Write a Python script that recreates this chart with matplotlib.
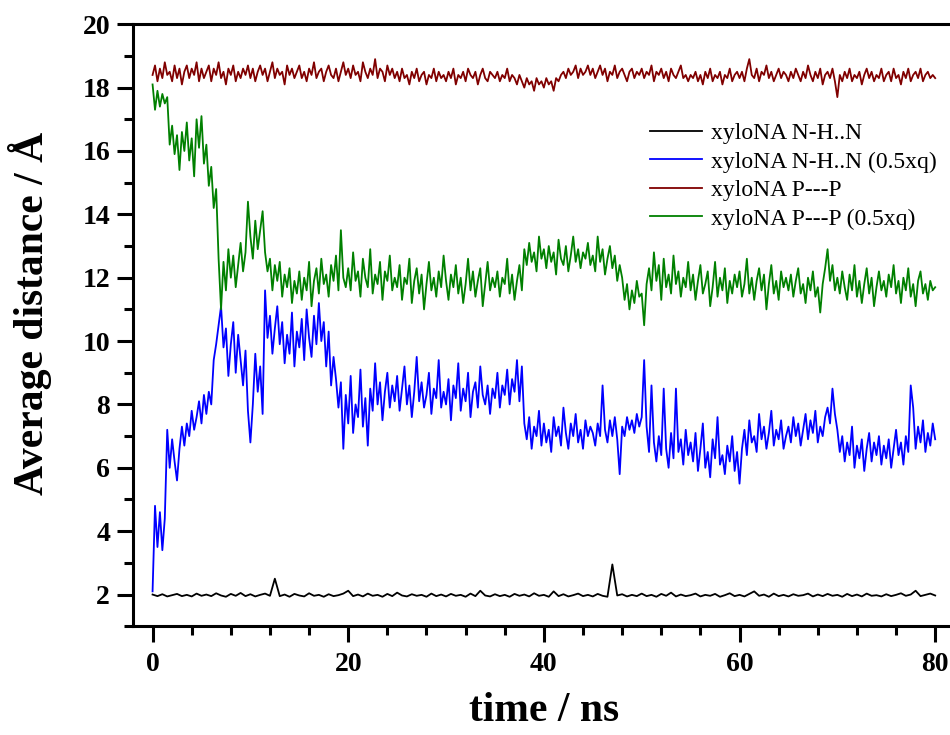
import numpy as np
import matplotlib
matplotlib.use("Agg")
import matplotlib.pyplot as plt
from matplotlib.ticker import MultipleLocator

# values, 0.25 ns apart (rows of 5 ns)
nhn_half_xq = [
    2.1, 4.8, 3.5, 4.6, 3.4, 4.4, 7.2, 6.0, 6.9, 6.2, 5.6, 6.6, 7.3, 6.7, 7.4, 7.0, 7.8, 7.2, 7.6, 8.1,
    7.4, 8.3, 7.7, 8.4, 8.0, 9.4, 9.9, 10.5, 11.1, 9.8, 10.4, 8.9, 9.9, 10.6, 9.0, 10.2, 9.4, 8.6, 9.7, 7.8,
    6.8, 8.0, 9.6, 8.4, 9.2, 7.7, 11.6, 10.1, 10.8, 9.6, 10.4, 11.1, 9.9, 10.6, 9.3, 10.2, 9.6, 10.9, 9.2, 10.3,
    9.8, 10.7, 9.4, 11.0, 10.1, 9.5, 10.8, 9.9, 11.2, 10.0, 10.6, 9.2, 10.3, 8.6, 9.5, 8.8, 7.9, 8.7, 6.6, 8.3,
    7.4, 8.9, 7.1, 8.0, 7.6, 9.1, 7.3, 8.2, 6.7, 8.5, 7.8, 9.3, 8.0, 8.7, 7.5, 8.4, 9.0, 7.9, 8.6, 8.1,
    8.9, 7.8, 8.5, 9.2, 8.0, 8.6, 7.6, 8.4, 9.5, 8.1, 8.7, 7.9, 8.3, 9.0, 7.7, 8.5, 8.2, 9.4, 7.9, 8.4,
    8.0, 8.8, 7.5, 8.6, 8.2, 9.3, 7.8, 8.5, 8.1, 9.0, 7.6, 8.4, 8.7, 7.9, 9.2, 8.3, 8.0, 8.6, 7.7, 8.5,
    8.2, 9.0, 7.9, 8.6, 8.3, 9.1, 8.0, 8.8, 8.4, 9.4, 8.1, 9.2, 7.4, 6.9, 7.6, 6.6, 7.3, 7.0, 7.8, 6.7,
    7.4, 6.8, 7.2, 6.5, 7.6, 7.0, 7.3, 6.7, 7.9, 7.1, 6.6, 7.4, 7.0, 7.7, 6.8, 7.2, 6.6, 7.5, 7.0, 7.3,
    7.1, 6.7, 7.4, 7.0, 8.6, 7.2, 6.8, 7.5, 7.0, 7.6, 6.9, 5.8, 7.3, 7.0, 7.6, 7.2, 7.5, 7.1, 7.7, 7.3,
    7.6, 9.4, 7.3, 6.5, 8.6, 6.8, 6.2, 7.0, 6.4, 8.5, 6.6, 6.0, 7.1, 6.3, 8.5, 6.5, 6.9, 6.1, 7.2, 6.4,
    6.8, 6.2, 7.1, 5.9, 6.6, 7.4, 6.0, 6.5, 5.7, 6.9, 6.3, 7.6, 6.1, 6.4, 5.8, 6.7, 6.2, 7.0, 5.9, 6.5,
    5.5, 6.6, 7.2, 6.4, 7.5, 6.8, 7.0, 6.5, 7.7, 6.9, 7.3, 6.6, 7.1, 7.8, 6.7, 7.2, 6.9, 7.5, 6.6, 7.0,
    7.3, 6.8, 7.6, 7.0, 7.4, 6.7, 7.2, 7.7, 6.9, 7.5, 7.1, 7.8, 6.8, 7.3, 7.0, 7.6, 7.9, 7.4, 8.5, 7.7,
    7.2, 6.5, 7.0, 6.2, 6.8, 6.4, 7.3, 6.0, 6.7, 6.3, 6.9, 5.9, 6.6, 7.1, 6.2, 6.8, 6.4, 7.0, 6.1, 6.7,
    6.3, 6.9, 6.0, 6.6, 7.2, 6.4, 6.8, 6.1, 7.0, 6.5, 8.6, 7.9, 6.6, 7.3, 6.8, 7.5, 6.5, 7.1, 6.7, 7.4,
    6.9,
]

ppp_half_xq = [
    18.1, 17.3, 17.9, 17.4, 17.8, 17.5, 17.7, 16.2, 16.8, 15.9, 16.5, 15.4, 16.6, 16.0, 16.9, 15.7, 16.4, 15.2, 17.0, 16.1,
    17.1, 15.6, 16.2, 14.9, 15.5, 14.2, 14.8, 12.6, 11.0, 12.5, 11.6, 12.9, 12.0, 12.7, 11.7, 12.4, 13.1, 12.2, 12.8, 14.4,
    13.3, 12.6, 13.8, 12.9, 13.5, 14.1, 12.8, 12.2, 12.6, 11.6, 12.4, 11.9, 12.5, 11.4, 12.1, 11.7, 12.3, 11.2, 11.9, 11.5,
    12.2, 11.3, 12.0, 11.6, 12.5, 11.1, 11.9, 12.3, 11.5, 12.6, 11.8, 12.1, 11.4, 12.4, 11.9, 12.7, 11.6, 13.5, 12.0, 11.7,
    12.3, 11.6, 12.8, 11.9, 12.2, 11.4, 12.6, 12.0, 11.7, 12.9, 11.5, 12.1, 11.8, 12.5, 11.3, 12.2, 11.9, 12.7, 11.6, 12.0,
    11.7, 12.4, 11.3, 12.0, 11.8, 12.6, 11.2, 11.9, 12.3, 11.5, 12.1, 11.0, 11.8, 12.5, 11.6, 12.0, 11.4, 12.2, 11.7, 12.7,
    11.9, 11.3, 12.1, 11.7, 12.4, 11.5, 12.0, 11.2, 11.8, 12.6, 11.6, 12.2, 11.4, 11.9, 12.3, 11.1, 11.8, 12.5, 11.6, 12.0,
    11.7, 12.2, 11.4, 12.0, 11.8, 12.6, 11.5, 12.1, 11.3, 11.9, 12.4, 11.6, 12.9, 12.4, 13.1, 12.5, 12.8, 12.2, 13.3, 12.6,
    12.9, 12.3, 13.0, 12.5, 12.8, 12.1, 13.2, 12.6, 12.4, 13.0, 12.2, 12.7, 13.3, 12.5, 12.9, 12.3, 12.8, 12.6, 13.1, 12.4,
    12.7, 12.2, 13.3, 12.5, 12.9, 12.1, 12.6, 13.0, 12.3, 12.7, 11.9, 12.4, 12.0, 11.3, 11.8, 11.0, 11.6, 11.2, 11.9, 11.4,
    11.5, 10.5, 11.8, 12.3, 11.6, 12.8, 11.9, 12.4, 11.3, 12.6, 11.7, 12.1, 11.5, 12.7, 11.8, 12.2, 11.4, 12.0, 11.7, 12.5,
    11.6, 12.1, 11.3, 11.9, 12.4, 11.5, 11.8, 12.2, 11.1, 11.7, 12.5, 11.4, 12.0, 11.6, 12.3, 11.2, 11.9, 11.5, 12.1, 11.7,
    12.2, 11.4, 11.8, 12.6, 11.5, 12.0, 11.3, 11.9, 12.3, 11.6, 12.1, 11.0, 11.8, 12.4, 11.5, 11.9, 11.3, 12.2, 11.7, 12.0,
    11.6, 12.1, 11.4, 11.9, 12.3, 11.5, 11.8, 11.2, 12.0, 11.6, 12.2, 11.4, 11.7, 10.9, 11.8, 12.3, 12.9, 11.9, 12.4, 11.6,
    12.0, 11.5, 12.2, 11.7, 11.3, 12.1, 11.6, 12.4, 11.4, 11.9, 11.2, 11.8, 12.3, 11.5, 12.0, 11.1, 11.7, 12.2, 11.6, 11.9,
    11.4, 12.1, 11.7, 12.4, 11.5, 11.9, 11.2, 12.0, 11.6, 12.3, 11.4, 11.8, 11.1, 11.9, 12.2, 11.5, 11.8, 11.3, 11.9, 11.6,
    11.7,
]

ppp = [
    18.4, 18.7, 18.2, 18.6, 18.3, 18.8, 18.4, 18.5, 18.2, 18.7, 18.3, 18.6, 18.1, 18.5, 18.7, 18.3, 18.6, 18.4, 18.8, 18.2,
    18.6, 18.3, 18.5, 18.7, 18.2, 18.6, 18.4, 18.8, 18.3, 18.5, 18.1, 18.6, 18.4, 18.7, 18.2, 18.5, 18.3, 18.6, 18.4, 18.7,
    18.3, 18.6, 18.2, 18.5, 18.7, 18.4, 18.6, 18.2, 18.5, 18.8, 18.3, 18.6, 18.4, 18.5, 18.1, 18.7, 18.4, 18.6, 18.3, 18.5,
    18.7, 18.3, 18.5, 18.2, 18.6, 18.4, 18.8, 18.3, 18.5, 18.6, 18.2, 18.5, 18.7, 18.4, 18.3, 18.6, 18.2, 18.5, 18.8, 18.4,
    18.6, 18.3, 18.7, 18.4, 18.5, 18.2, 18.8, 18.5, 18.3, 18.6, 18.4, 18.9, 18.3, 18.6, 18.5, 18.2, 18.7, 18.4, 18.6, 18.3,
    18.5, 18.2, 18.6, 18.3, 18.4, 18.1, 18.5, 18.3, 18.6, 18.2, 18.4, 18.5, 18.1, 18.4, 18.3, 18.6, 18.2, 18.5, 18.3, 18.4,
    18.2, 18.5, 18.3, 18.6, 18.1, 18.4, 18.3, 18.5, 18.2, 18.6, 18.4, 18.3, 18.5, 18.1, 18.4, 18.6, 18.3, 18.2, 18.5, 18.4,
    18.3, 18.5, 18.2, 18.4, 18.3, 18.6, 18.2, 18.4, 18.3, 18.1, 18.4, 18.2, 18.0, 18.3, 18.1, 18.2, 17.9, 18.3, 18.1, 18.2,
    18.0, 18.3, 18.1, 18.2, 17.9, 18.3, 18.2, 18.4, 18.5, 18.3, 18.6, 18.4, 18.5, 18.7, 18.3, 18.6, 18.4, 18.5, 18.7, 18.4,
    18.6, 18.3, 18.5, 18.7, 18.4, 18.6, 18.2, 18.5, 18.4, 18.7, 18.3, 18.5, 18.6, 18.4, 18.2, 18.5, 18.6, 18.3, 18.5, 18.4,
    18.6, 18.3, 18.5, 18.4, 18.7, 18.2, 18.5, 18.4, 18.6, 18.3, 18.5, 18.2, 18.6, 18.4, 18.3, 18.5, 18.7, 18.3, 18.4, 18.2,
    18.4, 18.3, 18.5, 18.2, 18.4, 18.1, 18.5, 18.3, 18.6, 18.2, 18.4, 18.3, 18.5, 18.1, 18.4, 18.3, 18.6, 18.2, 18.4, 18.5,
    18.3, 18.5, 18.2, 18.6, 18.9, 18.4, 18.3, 18.6, 18.2, 18.5, 18.4, 18.7, 18.3, 18.5, 18.2, 18.4, 18.6, 18.3, 18.5, 18.4,
    18.2, 18.5, 18.3, 18.6, 18.4, 18.2, 18.5, 18.3, 18.7, 18.4, 18.2, 18.5, 18.3, 18.6, 18.1, 18.4, 18.5, 18.3, 18.6, 18.2,
    17.7, 18.4, 18.2, 18.5, 18.3, 18.6, 18.2, 18.4, 18.3, 18.5, 18.1, 18.4, 18.6, 18.3, 18.5, 18.2, 18.4, 18.3, 18.6, 18.2,
    18.4, 18.5, 18.2, 18.6, 18.3, 18.4, 18.1, 18.5, 18.3, 18.6, 18.2, 18.4, 18.5, 18.3, 18.6, 18.2, 18.4, 18.5, 18.3, 18.4,
    18.3,
]

# 0.5 ns apart (rows of 10 ns)
nhn = [
    2.00, 1.95, 2.01, 1.94, 1.98, 2.02, 1.95, 1.99, 1.94, 2.03, 1.96, 2.00, 1.95, 2.04, 1.97, 1.93, 2.02, 1.96, 2.05, 1.95,
    2.01, 1.94, 1.99, 2.03, 1.96, 2.50, 1.95, 2.00, 1.93, 2.02, 1.97, 1.94, 2.04, 1.96, 1.99, 1.93, 2.01, 1.95, 1.98, 2.03,
    2.12, 1.95, 2.00, 1.94, 2.03, 1.96, 1.99, 1.93, 2.02, 1.95, 2.06, 1.97, 1.94, 2.01, 1.96, 1.99, 1.93, 2.03, 1.95, 2.00,
    1.94, 2.02, 1.96, 1.99, 1.93, 2.03, 1.95, 2.12, 1.97, 1.94, 2.01, 1.95, 1.99, 1.93, 2.02, 1.96, 2.00, 1.94, 2.04, 1.96,
    1.99, 1.93, 2.10, 1.95, 2.01, 1.94, 1.98, 2.03, 1.95, 1.99, 1.94, 2.02, 1.96, 1.93, 2.95, 1.97, 2.01, 1.94, 1.99, 1.95,
    2.03, 1.95, 1.99, 1.93, 2.02, 1.96, 2.06, 1.94, 2.00, 1.95, 1.98, 2.03, 1.94, 1.99, 1.96, 2.02, 1.93, 1.98, 2.04, 1.95,
    1.99, 1.94, 2.02, 2.10, 1.96, 2.00, 1.93, 2.03, 1.95, 1.99, 1.94, 2.01, 1.96, 1.98, 2.03, 1.94, 2.00, 1.95, 2.02, 1.96,
    1.99, 1.93, 2.02, 1.95, 2.00, 1.94, 2.03, 1.96, 1.98, 1.94, 2.01, 1.95, 1.99, 2.04, 1.96, 2.00, 2.12, 1.95, 1.99, 2.03,
    1.97,
]

labels = ["xyloNA N-H..N", "xyloNA N-H..N (0.5xq)", "xyloNA P---P", "xyloNA P---P (0.5xq)"]
colors = ["#000000", "#0000ff", "#800000", "#008000"]

t_fine = np.linspace(0, 80, len(ppp))
t_coarse = np.linspace(0, 80, len(nhn))

plt.rcParams["font.family"] = ["Liberation Serif", "DejaVu Serif"]

fig = plt.figure(figsize=(9.5, 7.35), dpi=100)
ax = fig.add_axes([0.14, 0.148, 0.865, 0.819])

series = [(t_coarse, nhn), (t_fine, nhn_half_xq), (t_fine, ppp), (t_fine, ppp_half_xq)]
for (t, y), lab, c in zip(series, labels, colors):
    ax.plot(t, y, color=c, lw=1.3, label=lab)

ax.set_xlim(-2, 82)
ax.set_ylim(1, 20)
ax.xaxis.set_major_locator(MultipleLocator(20))
ax.xaxis.set_minor_locator(MultipleLocator(4))
ax.yaxis.set_major_locator(MultipleLocator(2))
ax.yaxis.set_minor_locator(MultipleLocator(1))

for side in ["left", "bottom", "top"]:
    ax.spines[side].set_linewidth(2.2)
ax.spines["right"].set_visible(False)

ax.tick_params(which="major", direction="out", length=11.5, width=2.2, labelsize=20)
ax.tick_params(which="minor", direction="out", length=6.5, width=2.2)
ax.tick_params(axis="x", which="major", pad=7)
ax.tick_params(axis="y", which="major", pad=5)
ax.tick_params(top=False, right=False, which="both")
for lbl in ax.get_xticklabels() + ax.get_yticklabels():
    lbl.set_fontweight("bold")

ax.set_xlabel("time / ns", fontsize=30, fontweight="bold", labelpad=11)
ax.set_ylabel("Average distance / Å", fontsize=30, fontweight="bold", labelpad=22)
ax.yaxis.set_label_coords(-0.098, 0.52)

ax.legend(loc="upper left", bbox_to_anchor=(0.629, 0.837), frameon=False,
          fontsize=17, handlelength=2.2, handletextpad=0.4, labelspacing=0.3,
          borderpad=0, borderaxespad=0)

fig.savefig("out.png", dpi=100)
